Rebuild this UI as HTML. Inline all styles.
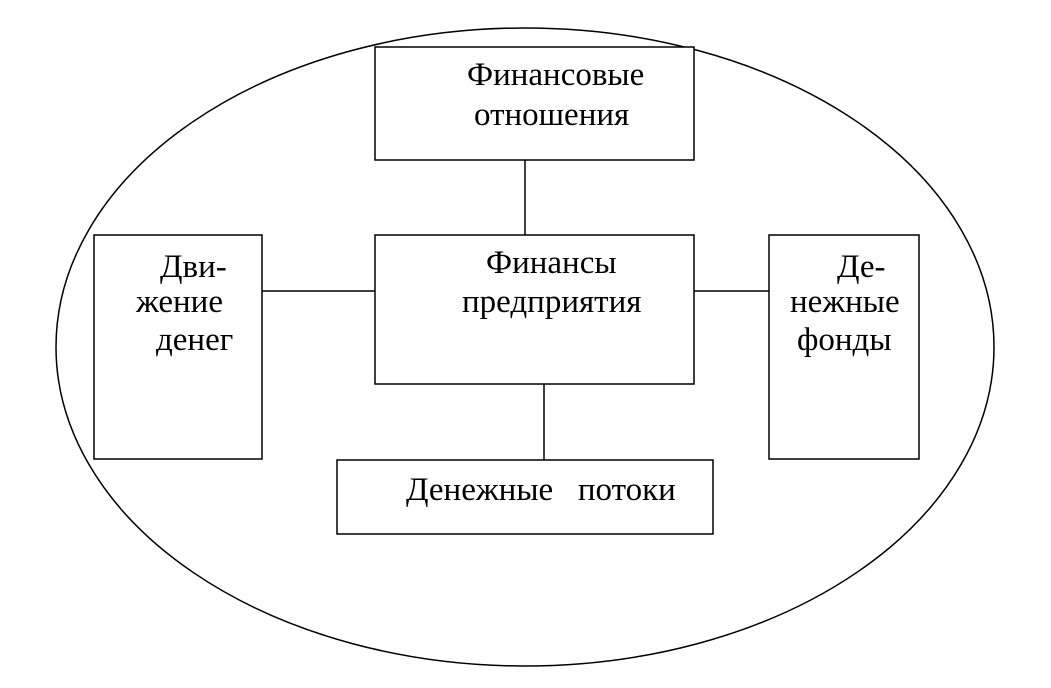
<!DOCTYPE html>
<html><head><meta charset="utf-8"><style>
html,body{margin:0;padding:0;background:#fff;}
svg{display:block;}
text{font-family:"Liberation Serif",serif;font-size:33px;fill:#000;}
</style></head><body>
<svg width="1051" height="688" viewBox="0 0 1051 688">
<g fill="none" stroke="#000" stroke-width="1.5">
<ellipse cx="525" cy="347" rx="469" ry="319"/>
<rect x="375" y="47" width="319" height="113" fill="#fff"/>
<rect x="375" y="235" width="319" height="149" fill="#fff"/>
<rect x="94" y="235" width="168" height="224" fill="#fff"/>
<rect x="769" y="235" width="150" height="224" fill="#fff"/>
<rect x="337" y="460" width="376" height="74" fill="#fff"/>
<line x1="525" y1="160" x2="525" y2="235"/>
<line x1="262" y1="291" x2="375" y2="291"/>
<line x1="694" y1="291" x2="769" y2="291"/>
<line x1="544" y1="384" x2="544" y2="460"/>
</g>
<text x="467" y="85">Финансовые</text>
<text x="474" y="125">отношения</text>
<text x="486" y="273">Финансы</text>
<text x="462" y="312">предприятия</text>
<text x="160" y="277">Дви-</text>
<text x="136" y="312">жение</text>
<text x="156" y="350">денег</text>
<text x="837" y="277">Де-</text>
<text x="790" y="312">нежные</text>
<text x="797" y="350">фонды</text>
<text x="406" y="500" xml:space="preserve">Денежные   потоки</text>
</svg>
</body></html>
